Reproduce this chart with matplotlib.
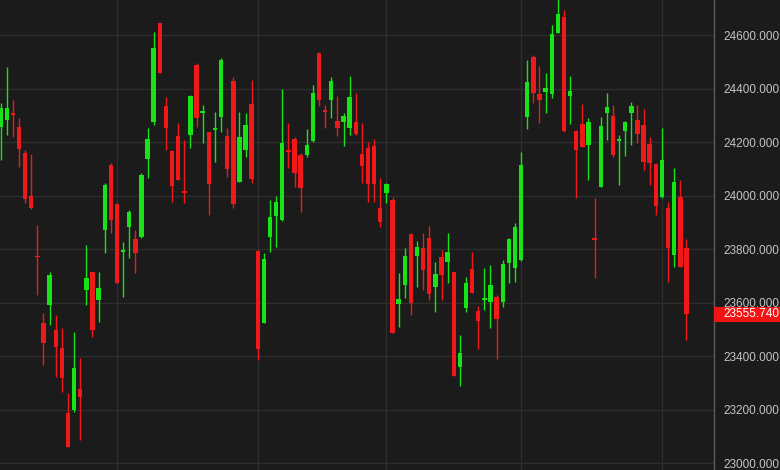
import matplotlib
matplotlib.use("Agg")
import matplotlib.pyplot as plt
import matplotlib.transforms as mtransforms
from matplotlib.patches import Rectangle
import numpy as np

# OHLC values, oldest first
opens = [24256, 24282, 24308, 24256, 24159, 23998, 23774, 23523, 23591, 23497,
         23430, 23187, 23198, 23277, 23647, 23714, 23609, 23871, 24114, 23968,
         23789, 23882, 23837, 23845, 24137, 24275, 24645, 24335, 24166, 24222,
         24017, 24226, 24488, 24308, 24237, 24245, 24293, 24222, 24428, 24050,
         24170, 24342, 23792, 23523, 23845, 23923, 23908, 24170, 24211, 24151,
         24151, 24204, 24533, 24320, 24357, 24279, 24275, 24252, 24275, 24155,
         24178, 24185, 23953, 24009, 23983, 23594, 23665, 23856, 23774, 23804,
         23841, 23658, 23770, 23751, 23714, 23359, 23579, 23725, 23568, 23609,
         23602, 23621, 23602, 23748, 23729, 23759, 24293, 24518, 24379, 24387,
         24379, 24607, 24667, 24372, 24241, 24267, 24189, 23841, 24032, 24308,
         24297, 24204, 24241, 24308, 24282, 24264, 24192, 24118, 23994, 23953,
         23778, 23994, 23804]
highs = [24346, 24480, 24357, 24290, 24170, 24155, 23890, 23561, 23714, 23553,
         23505, 23262, 23490, 23393, 23815, 23714, 23714, 24047, 24121, 23972,
         23826, 23946, 23871, 24084, 24252, 24611, 24645, 24368, 24170, 24271,
         24207, 24376, 24495, 24338, 24237, 24312, 24514, 24252, 24443, 24312,
         24308, 24432, 23796, 23785, 23983, 23998, 24398, 24271, 24219, 24159,
         24249, 24413, 24536, 24338, 24443, 24372, 24308, 24447, 24383, 24271,
         24200, 24211, 24065, 24047, 23994, 23710, 23804, 23860, 23830, 23860,
         23886, 23751, 23796, 23860, 23714, 23479, 23695, 23789, 23587, 23729,
         23740, 23628, 23759, 23841, 23897, 24163, 24507, 24525, 24484, 24458,
         24637, 24740, 24693, 24447, 24245, 24342, 24290, 23991, 24293, 24383,
         24338, 24226, 24278, 24349, 24338, 24323, 24219, 24121, 24252, 23976,
         24103, 24058, 23837]
lows = [24133, 24226, 24219, 24107, 23972, 23950, 23628, 23366, 23516, 23322,
        23265, 23060, 23191, 23086, 23591, 23471, 23528, 23785, 23860, 23673,
        23621, 23766, 23710, 23841, 24065, 24264, 24458, 24170, 23976, 24058,
        23972, 24178, 24256, 24196, 23927, 24125, 24237, 24069, 23953, 24050,
        24144, 24047, 23385, 23523, 23789, 23808, 23905, 24103, 24032, 23938,
        24144, 24200, 24335, 24252, 24290, 24222, 24185, 24226, 24226, 24047,
        23976, 23976, 23882, 23972, 23486, 23508, 23617, 23553, 23658, 23647,
        23609, 23565, 23609, 23673, 23325, 23288, 23565, 23636, 23426, 23572,
        23505, 23389, 23583, 23673, 23677, 23755, 24249, 24346, 24271, 24308,
        24364, 24607, 24237, 24267, 23991, 24181, 24058, 23692, 24032, 24207,
        24144, 24039, 24148, 24189, 24196, 24095, 24039, 23927, 23991, 23677,
        23733, 23733, 23460]
closes = [24327, 24327, 24301, 24174, 23987, 23953, 23770, 23449, 23703, 23434,
          23318, 23060, 23355, 23247, 23692, 23497, 23654, 24039, 23908, 23673,
          23796, 23938, 23785, 24077, 24211, 24551, 24458, 24252, 24036, 24058,
          24009, 24372, 24290, 24316, 24043, 24252, 24507, 24099, 23968, 24219,
          24264, 24062, 23426, 23763, 23920, 23976, 24196, 24163, 24084, 24028,
          24189, 24383, 24357, 24312, 24428, 24252, 24297, 24368, 24230, 24110,
          24043, 24043, 23901, 24043, 23486, 23613, 23774, 23598, 23808, 23721,
          23632, 23707, 23703, 23789, 23325, 23411, 23673, 23636, 23531, 23617,
          23665, 23538, 23744, 23837, 23882, 24114, 24424, 24383, 24357, 24402,
          24604, 24678, 24241, 24391, 24170, 24181, 24275, 23834, 24260, 24331,
          24151, 24211, 24275, 24335, 24230, 24125, 24121, 23961, 24133, 23804,
          24050, 23733, 23555.74]
month_starts = [19, 42, 63, 85, 108]
yticks = [23000, 23200, 23400, 23600, 23800, 24000, 24200, 24400, 24600]
last_price = 23555.74

bg = "#1b1b1b"
up_col = "#17e317"
down_col = "#f01818"

fig = plt.figure(figsize=(7.8, 4.7), dpi=100, facecolor=bg)
ax = fig.add_axes([0, 0, 714 / 780, 1])
ax.set_facecolor(bg)

idx = np.arange(len(opens))
o = np.array(opens, dtype=float)
c = np.array(closes, dtype=float)
h = np.array(highs, dtype=float)
l = np.array(lows, dtype=float)
cols = [up_col if cc >= oo else down_col for oo, cc in zip(o, c)]

# grid
for v in yticks:
    ax.axhline(v, color="#2e2e2e", lw=1, zorder=0)
for m in month_starts:
    ax.axvline(m, color="#2e2e2e", lw=1, zorder=0)

# candles
ax.vlines(idx, l, h, colors=cols, lw=1, zorder=2)
body_bottom = np.minimum(o, c)
body_h = np.maximum(np.abs(c - o), 4)
ax.bar(idx, body_h, bottom=body_bottom, width=0.72, color=cols, zorder=3, linewidth=0)

ax.set_xlim(-0.1, 116.5)
ax.set_ylim(22974, 24731)

ax.yaxis.tick_right()
ax.set_yticks(yticks)
ax.set_yticklabels([f"{v:.3f}" for v in yticks])
ax.tick_params(axis="y", length=0, pad=7, labelsize=8.5, labelcolor="#c4c4c4")
for lab in ax.get_yticklabels():
    lab.set_fontfamily("Liberation Sans")
ax.set_xticks([])
for side in ["top", "bottom", "left"]:
    ax.spines[side].set_visible(False)
ax.spines["right"].set_color("#5c5c5c")
ax.spines["right"].set_linewidth(1)

# last price tag
trans = mtransforms.blended_transform_factory(ax.transAxes, ax.transData)
box_h = 15 * (24731 - 22974) / 470
ax.add_patch(Rectangle((1.0, last_price - box_h / 2), 66 / 714, box_h,
                       transform=trans, facecolor="#f01414", edgecolor="none",
                       clip_on=False, zorder=10))
ax.text(1.0 + 9 / 714, last_price, f"{last_price:.3f}", transform=trans,
        color="white", fontsize=8.5, family="Liberation Sans",
        ha="left", va="center", zorder=11, clip_on=False)

fig.savefig("out.png", dpi=100, facecolor=bg)
